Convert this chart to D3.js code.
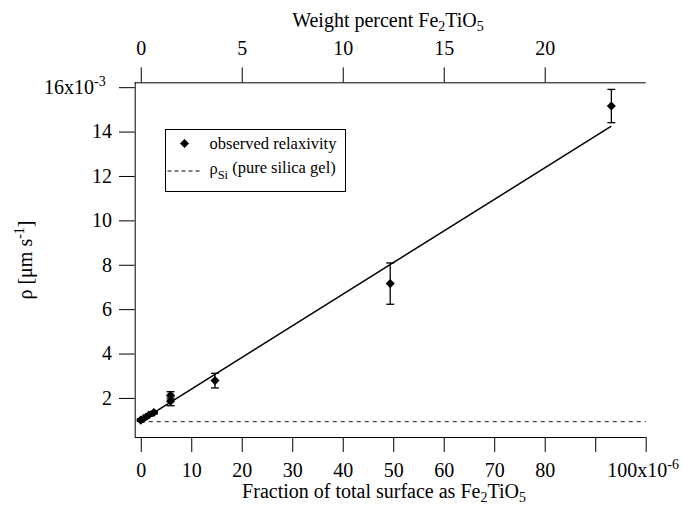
<!DOCTYPE html>
<html>
<head>
<meta charset="utf-8">
<script src="https://cdn.jsdelivr.net/npm/d3@7"></script>
<style>
  body { margin: 0; background: #fff; }
  svg { display: block; }
  svg text { font-family: 'Liberation Serif', 'Times New Roman', serif; }
</style>
</head>
<body>
<svg id="chart" width="682" height="505"></svg>
<script>
// observed relaxivity (x: fraction x1e-6, y: rho x1e-3 um/s)
const fraction = [0, 0.6, 1.6, 2.6, 5.9, 5.9, 14.7, 49.4, 93.2];
const rho = [1.0, 1.08, 1.23, 1.34, 2.12, 1.85, 2.78, 7.15, 15.15];
const rhoErr = [0.06, 0.06, 0.06, 0.06, 0.16, 0.2, 0.33, 0.93, 0.75];

// linear fit through the points
const fitX = [0, 93.2];
const fitY = [0.97, 14.25];

// pure silica gel relaxivity
const rhoSi = 0.93;
const rhoSiRange = [0, 100];

const bottomTicks = [0, 10, 20, 30, 40, 50, 60, 70, 80, 90, 100];
const topTicks = [0, 5, 10, 15, 20];
const leftTicks = [2, 4, 6, 8, 10, 12, 14, 16];

const svg = d3.select('#chart'),
  margin = { top: 82.3, right: 36.3, bottom: 68, left: 134.7 },
  width = +svg.attr('width'),
  height = +svg.attr('height');

const x = d3.scaleLinear()
  .domain([-1.2, 100])
  .range([margin.left, width - margin.right]);

// weight percent axis: 25 wt% ~ 100e-6 fraction
const x2 = d3.scaleLinear()
  .domain([-0.3, 25])
  .range([margin.left, width - margin.right]);

const y = d3.scaleLinear()
  .domain([0.24, 16.22])
  .range([height - margin.bottom, margin.top]);

const sup = (sel, base, exp) => {
  sel.text(null);
  sel.append('tspan').text(base);
  sel.append('tspan').attr('dy', '-0.55em').attr('font-size', '0.7em').text(exp);
};

const fixFont = g => g.attr('font-family', null).attr('font-size', 20)
  .selectAll('text').attr('fill', '#000');

// bottom axis
svg.append('g')
  .attr('transform', `translate(0,${height - margin.bottom})`)
  .call(d3.axisBottom(x).tickValues(bottomTicks).tickSize(15).tickPadding(10.8).tickSizeOuter(0)
    .tickFormat(d => (d === 90 ? '' : d)))
  .call(fixFont)
  .call(g => g.selectAll('.tick').filter(d => d === 100).select('text')
    .attr('x', -3).call(t => sup(t, '100x10', '-6')))
  .call(g => g.select('.domain').attr('d', `M${margin.left},0.5H${width - margin.right}`));

// top axis
svg.append('g')
  .attr('transform', `translate(0,${margin.top})`)
  .call(d3.axisTop(x2).tickValues(topTicks).tickSize(15).tickPadding(12.3).tickSizeOuter(0))
  .call(fixFont)
  .call(g => g.select('.domain').attr('d', `M${margin.left},0.5H${width - margin.right}`));

// left axis
svg.append('g')
  .attr('transform', `translate(${margin.left},0)`)
  .call(d3.axisLeft(y).tickValues(leftTicks).tickSize(15.7).tickPadding(7).tickSizeOuter(0))
  .call(fixFont)
  .call(g => g.selectAll('.tick').filter(d => d === 16).select('text')
    .attr('x', -29).call(t => sup(t, '16x10', '-3')))
  .call(g => g.select('.domain').attr('d', `M0.5,${margin.top}V${height - margin.bottom}`));

// axis titles: [text, dy, small]
const title = (t, parts) => {
  parts.forEach(p => {
    const s = t.append('tspan').text(p[0]);
    if (p[1]) s.attr('dy', p[1]);
    if (p[2]) s.attr('font-size', '0.7em');
  });
};

const formula = [['Fe'], ['2', '0.3em', true], ['TiO', '-0.21em'], ['5', '0.3em', true]];

svg.append('text')
  .attr('x', 384).attr('y', 498)
  .attr('text-anchor', 'middle').attr('font-size', 20)
  .call(t => title(t, [['Fraction of total surface as ']].concat(formula)));

svg.append('text')
  .attr('x', 388).attr('y', 27)
  .attr('text-anchor', 'middle').attr('font-size', 20)
  .call(t => title(t, [['Weight percent ']].concat(formula)));

svg.append('text')
  .attr('transform', 'translate(32,260) rotate(-90)')
  .attr('text-anchor', 'middle').attr('font-size', 20)
  .call(t => {
    t.append('tspan').text('\u03c1 [\u03bcm s');
    t.append('tspan').attr('font-size', '0.7em').attr('dy', '-0.55em').text('-1');
    t.append('tspan').attr('dy', '0.385em').text(']');
  });

// pure silica line
svg.append('line')
  .attr('x1', x(rhoSiRange[0])).attr('x2', x(rhoSiRange[1]))
  .attr('y1', y(rhoSi)).attr('y2', y(rhoSi))
  .attr('stroke', '#444').attr('stroke-width', 1.2)
  .attr('stroke-dasharray', '4,4');

// fit line
svg.append('path')
  .datum(d3.zip(fitX, fitY))
  .attr('fill', 'none').attr('stroke', '#000').attr('stroke-width', 1.5)
  .attr('d', d3.line().x(d => x(d[0])).y(d => y(d[1])));

const points = d3.zip(fraction, rho, rhoErr);

// error bars
const eb = svg.append('g').attr('stroke', '#000').attr('stroke-width', 1.3)
  .selectAll('g').data(points).join('g');
eb.append('line')
  .attr('x1', d => x(d[0])).attr('x2', d => x(d[0]))
  .attr('y1', d => y(d[1] - d[2])).attr('y2', d => y(d[1] + d[2]));
[-1, 1].forEach(s => {
  eb.append('line')
    .attr('x1', d => x(d[0]) - 4).attr('x2', d => x(d[0]) + 4)
    .attr('y1', d => y(d[1] + s * d[2])).attr('y2', d => y(d[1] + s * d[2]));
});

// markers
const diamond = d3.symbol(d3.symbolSquare, 41);
svg.append('g').selectAll('path').data(points).join('path')
  .attr('d', diamond)
  .attr('transform', d => `translate(${x(d[0])},${y(d[1])}) rotate(45)`)
  .attr('fill', '#000');

// legend
const legend = svg.append('g').attr('transform', 'translate(165.5,129.5)');
legend.append('rect')
  .attr('width', 180).attr('height', 62)
  .attr('fill', '#fff').attr('stroke', '#000').attr('stroke-width', 1);
legend.append('path')
  .attr('d', diamond)
  .attr('transform', 'translate(19,14) rotate(45)');
legend.append('text')
  .attr('x', 44).attr('y', 19).attr('font-size', 16.5)
  .text('observed relaxivity');
legend.append('line')
  .attr('x1', 2).attr('x2', 34).attr('y1', 41.5).attr('y2', 41.5)
  .attr('stroke', '#000').attr('stroke-width', 1).attr('stroke-dasharray', '4,3');
legend.append('text')
  .attr('x', 44).attr('y', 44).attr('font-size', 16.5)
  .call(t => {
    t.append('tspan').text('\u03c1');
    t.append('tspan').attr('font-size', '0.75em').attr('dy', '0.45em').text('Si');
    t.append('tspan').attr('dy', '-0.34em').text(' (pure silica gel)');
  });
</script>
</body>
</html>
